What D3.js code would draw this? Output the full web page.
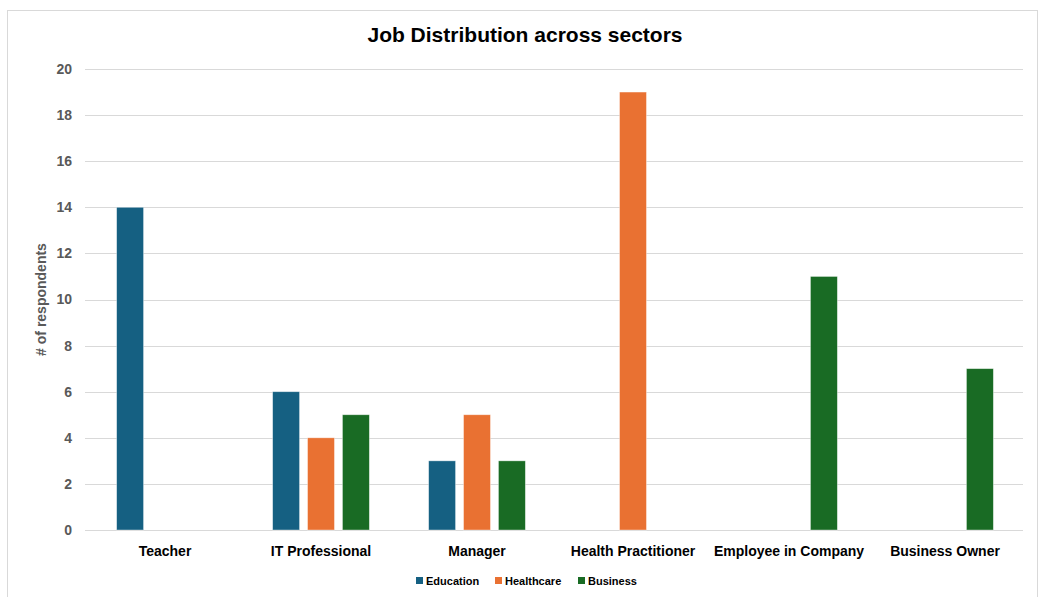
<!DOCTYPE html>
<html><head><meta charset="utf-8">
<script src="https://cdn.jsdelivr.net/npm/d3@7"></script>
<style>body{margin:0;background:#fff;}svg{display:block;font-family:"Liberation Sans",Arial,sans-serif;}</style>
</head><body><svg id="chart" width="1043" height="597"></svg>
<script>
const categories = ["Teacher","IT Professional","Manager","Health Practitioner","Employee in Company","Business Owner"];
const seriesNames = ["Education","Healthcare","Business"];
const education = [14, 6, 3, null, null, null];
const healthcare = [null, 4, 5, 19, null, null];
const business = [null, 5, 3, null, 11, 7];
const yTicks = [0,2,4,6,8,10,12,14,16,18,20];
const colors = ["#156082","#E97132","#196B24"];
const seriesValues = [education, healthcare, business];

const svg = d3.select("#chart");
const m = {left: 87, right: 1023, top: 69, bottom: 530};

svg.append("rect").attr("x",7.5).attr("y",10.5).attr("width",1030).attr("height",600)
  .attr("fill","#fff").attr("stroke","#d9d9d9");

const x0 = d3.scaleBand().domain(categories).range([m.left, m.right]).paddingInner(0.38).paddingOuter(0.19);
const x1 = d3.scaleBand().domain(seriesNames).range([0, x0.bandwidth()]).paddingInner(0.229).paddingOuter(0);
const y = d3.scaleLinear().domain([0,20]).range([m.bottom, m.top]);

svg.append("g").selectAll("line").data(yTicks).join("line")
  .attr("x1", 85).attr("x2", m.right)
  .attr("y1", d=>Math.round(y(d))+0.5).attr("y2", d=>Math.round(y(d))+0.5)
  .attr("stroke","#d9d9d9").attr("stroke-width",1);

const yAxis = d3.axisLeft(y).tickValues(yTicks).tickSize(0).tickPadding(0);
const gy = svg.append("g").attr("transform",`translate(72,0)`).call(yAxis);
gy.select(".domain").remove();
gy.selectAll("text").attr("font-size",14).attr("font-weight","bold").attr("fill","#595959")
  .attr("font-family",'"Liberation Sans",Arial,sans-serif');

const groups = svg.append("g").selectAll("g").data(categories).join("g")
  .attr("transform", d=>`translate(${x0(d)},0)`);
groups.selectAll("rect").data((c,i)=>seriesNames.map((s,j)=>({s, v: seriesValues[j][i], j})).filter(d=>d.v!=null))
  .join("rect")
  .attr("x", d=>x1(d.s)).attr("width", x1.bandwidth())
  .attr("y", d=>y(d.v)).attr("height", d=>y(0)-y(d.v))
  .attr("fill", d=>colors[d.j]).attr("stroke","#ffffff").attr("stroke-opacity",0.5).attr("stroke-width",0.75);

const xAxis = d3.axisBottom(x0).tickSize(0).tickPadding(0);
const gx = svg.append("g").attr("transform",`translate(0,${m.bottom+16})`).call(xAxis);
gx.select(".domain").remove();
gx.selectAll("text").attr("font-size",14).attr("font-weight","bold").attr("fill","#000")
  .attr("font-family",'"Liberation Sans",Arial,sans-serif').attr("dy","0.71em");

svg.append("text").attr("x",525).attr("y",42).attr("text-anchor","middle")
  .attr("font-size",21).attr("font-weight","bold").attr("fill","#000").text("Job Distribution across sectors");

svg.append("text").attr("transform",`translate(46,${(m.top+m.bottom)/2}) rotate(-90)`)
  .attr("text-anchor","middle").attr("font-size",14).attr("font-weight","bold").attr("fill","#595959")
  .text("# of respondents");

const legendX = [416, 495, 578];
const lg = svg.append("g").selectAll("g").data(seriesNames).join("g")
  .attr("transform",(d,i)=>`translate(${legendX[i]},577)`);
lg.append("rect").attr("width",7).attr("height",7).attr("fill",(d,i)=>colors[i]);
lg.append("text").attr("x",10).attr("y",7.5).attr("font-size",11).attr("font-weight","bold").attr("fill","#000").text(d=>d);
</script></body></html>
